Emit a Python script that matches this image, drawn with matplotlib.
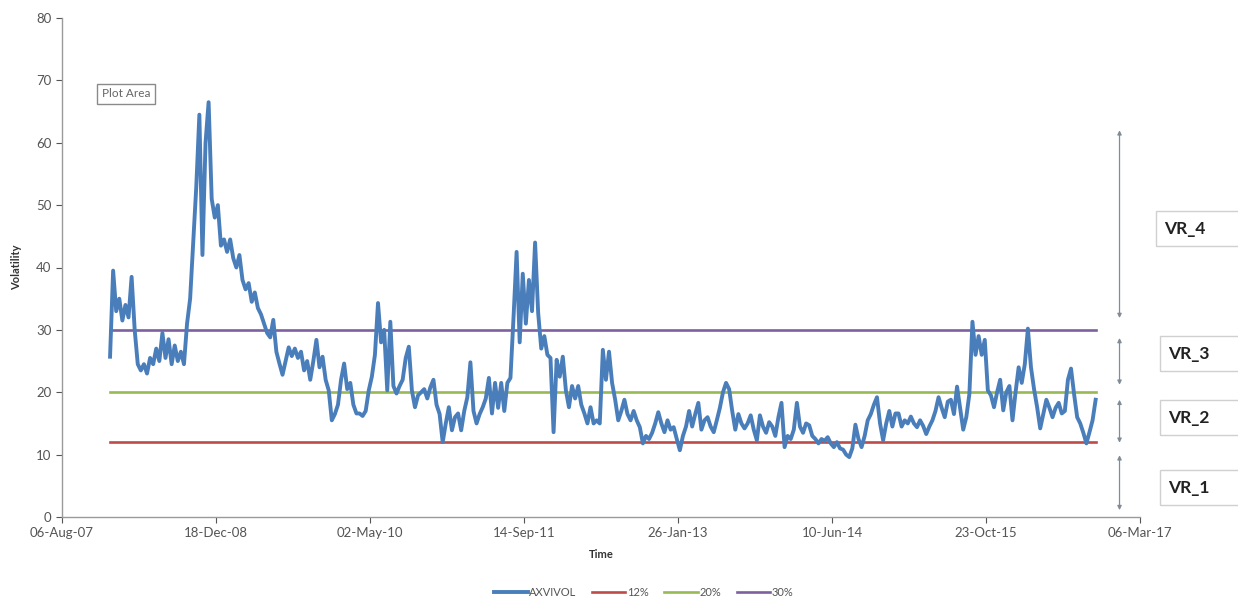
import numpy as np
import pandas as pd
import matplotlib
matplotlib.use("Agg")
import matplotlib.pyplot as plt
from matplotlib.patches import Rectangle

plt.rcParams["font.family"] = ["Lato", "DejaVu Sans"]

# AXVIVOL, one value every 10 days from early Jan 2008
vol = [
    25.7, 39.5, 33.0, 35.0, 31.5, 34.0, 32.0, 38.5, 30.0, 24.5,
    23.5, 24.5, 23.0, 25.5, 24.5, 27.0, 25.0, 29.5, 25.5, 28.5,
    24.5, 27.5, 25.0, 26.5, 24.5, 31.0, 35.0, 44.0, 53.0, 64.5,
    42.0, 60.0, 66.5, 51.0, 48.0, 50.0, 43.5, 44.5, 42.5, 44.5,
    41.5, 40.0, 42.0, 38.0, 36.5, 37.5, 34.5, 36.0, 33.5, 32.5,
    31.0, 29.5, 28.8, 31.6, 26.5, 24.6, 22.8, 25.0, 27.2, 25.8,
    27.0, 25.5, 26.5, 23.5, 25.0, 22.0, 25.0, 28.4, 24.0, 25.7,
    22.0, 20.3, 15.5, 16.5, 18.0, 22.0, 24.6, 20.5, 21.5, 18.0,
    16.6, 16.6, 16.2, 17.0, 20.3, 22.5, 26.0, 34.3, 28.0, 30.0,
    20.3, 31.3, 21.0, 19.8, 21.0, 22.0, 25.5, 27.3, 20.3, 17.6,
    19.5, 20.0, 20.5, 19.0, 20.8, 22.0, 18.0, 16.5, 12.0, 15.0,
    17.6, 13.9, 16.0, 16.6, 13.9, 17.0, 19.2, 24.8, 17.0, 15.0,
    16.5, 17.6, 19.0, 22.3, 16.6, 21.5, 17.5, 21.5, 17.0, 21.5,
    22.3, 32.0, 42.5, 28.0, 39.0, 31.0, 38.0, 33.0, 44.0, 32.7,
    27.0, 29.0, 26.0, 25.5, 13.6, 25.2, 22.5, 25.7, 20.3, 17.6,
    21.0, 19.0, 21.0, 18.0, 16.6, 15.0, 17.6, 15.0, 15.5, 15.0,
    26.8, 22.0, 26.5, 21.5, 18.8, 15.5, 17.0, 18.8, 16.5, 15.5,
    17.0, 15.5, 14.4, 11.8, 13.0, 12.5, 13.5, 15.0, 16.8, 15.0,
    13.6, 15.5, 14.0, 14.4, 12.5, 10.7, 13.0, 14.5, 17.0, 14.5,
    16.5, 18.3, 14.0, 15.5, 16.0, 14.5, 13.6, 15.5, 17.5, 20.0,
    21.5, 20.5, 17.0, 14.0, 16.5, 15.0, 14.2, 15.0, 16.3, 14.0,
    12.3, 16.3, 14.5, 13.5, 15.2, 14.5, 13.0, 16.0, 18.3, 11.2,
    13.0, 12.5, 14.0, 18.3, 14.5, 13.5, 15.0, 14.7, 13.0, 12.5,
    11.8, 12.5, 12.2, 12.8, 11.8, 11.2, 12.0, 11.0, 10.8, 10.0,
    9.6, 11.0, 14.8, 12.5, 11.2, 13.0, 15.5, 16.5, 18.0, 19.2,
    15.0, 12.3, 15.0, 17.0, 14.5, 16.6, 16.6, 14.5, 15.5, 15.0,
    16.1, 15.0, 14.4, 15.5, 14.6, 13.3, 14.5, 15.5, 17.0, 19.2,
    17.5, 16.0, 18.5, 18.8, 16.5, 20.9, 17.5, 14.0, 16.0, 19.7,
    31.3, 26.0, 29.0, 26.0, 28.4, 20.3, 19.5, 17.6, 20.0, 22.0,
    17.1, 20.0, 21.0, 15.5, 20.0, 24.0, 21.5, 24.5, 30.2, 24.0,
    20.5, 17.6, 14.2, 16.5, 18.8, 17.5, 16.0, 17.5, 18.3, 16.6,
    17.0, 22.0, 23.8, 19.7, 16.0, 15.0, 13.5, 11.8, 13.6, 15.5,
    18.8,
]
dates = pd.date_range("2008-01-09", periods=len(vol), freq="10D")

levels = [12, 20, 30]
level_names = ["12%", "20%", "30%"]
level_colors = ["#be4b48", "#98b954", "#7d60a0"]

# volatility regimes: (label, low, high)
regimes = [("VR_4", 31.9, 62.0), ("VR_3", 21.2, 28.7), ("VR_2", 11.9, 18.8), ("VR_1", 1.1, 9.9)]
regime_label_y = [229, 354, 418, 488]

xticks = pd.date_range("2007-08-06", periods=8, freq="500D")

fig = plt.figure(figsize=(12.38, 5.99), dpi=100)
ax = fig.add_axes([62 / 1238, 82 / 599, 1078 / 1238, 499 / 599])

ax.plot(dates, vol, color="#4a7ebb", lw=2.8, label="AXVIVOL", zorder=3)
for lev, name, c in zip(levels, level_names, level_colors):
    ax.plot([dates[0], dates[-1]], [lev, lev], color=c, lw=1.9, label=name, zorder=2)

ax.set_xlim(xticks[0], xticks[-1])
ax.set_ylim(0, 80)
ax.set_yticks(range(0, 81, 10))
ax.set_xticks(xticks)
ax.set_xticklabels([d.strftime("%d-%b-%y") for d in xticks])
ax.tick_params(labelsize=9.5, colors="#555555", length=4, width=0.8)
for s in ["top", "right"]:
    ax.spines[s].set_visible(False)
for s in ["left", "bottom"]:
    ax.spines[s].set_color("#9a9a9a")
    ax.spines[s].set_linewidth(1.0)

ax.set_xlabel("Time", fontsize=8, fontweight="bold", color="#333333", labelpad=7)
ax.set_ylabel("Volatility", fontsize=8, fontweight="bold", color="#333333", labelpad=10)

ax.text(0.037, 0.848, "Plot Area", transform=ax.transAxes, fontsize=8.5, color="#666666",
        va="center", ha="left",
        bbox=dict(boxstyle="square,pad=0.4", fc="white", ec="#8a8a8a", lw=1.0))

for (name, lo, hi), ly in zip(regimes, regime_label_y):
    ax.annotate("", xy=(0.981, lo), xytext=(0.981, hi),
                xycoords=("axes fraction", "data"), textcoords=("axes fraction", "data"),
                arrowprops=dict(arrowstyle="<|-|>", color="#7f8c99", lw=0.9,
                                mutation_scale=6, shrinkA=0, shrinkB=0))
    x0 = 1156 if name == "VR_4" else 1160
    fig.patches.append(Rectangle((x0 / 1238, 1 - (ly + 17) / 599), (1240 - x0) / 1238, 35 / 599,
                                 transform=fig.transFigure, fill=False,
                                 ec="#d0d0d0", lw=1.0))
    fig.text((x0 + 8) / 1238, 1 - ly / 599, name, fontsize=12.5, fontweight="bold",
             color="#222222", va="center", ha="left")

fig.legend(loc="center", ncol=4, frameon=False, bbox_to_anchor=(0.52, 1 - 592 / 599),
           fontsize=8, handlelength=3.0, columnspacing=1.4, handletextpad=0.15,
           labelcolor="#555555")

fig.savefig("out.png", dpi=100)
